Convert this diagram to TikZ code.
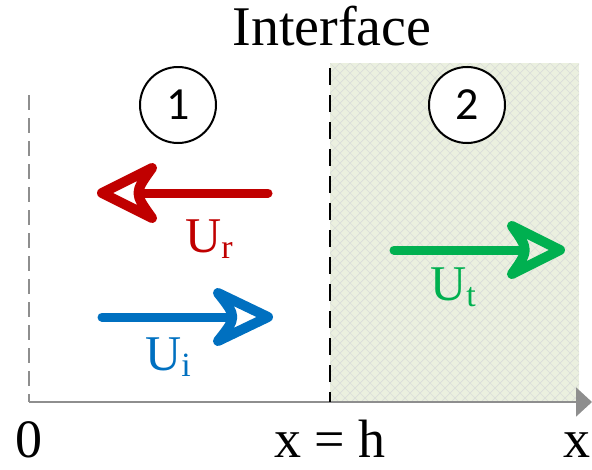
\documentclass[tikz,border=0pt]{standalone}
\usepackage{fontspec}
\setmainfont{Liberation Serif}
\newfontfamily\numfont{Carlito}
\usetikzlibrary{arrows.meta}
\definecolor{cred}{HTML}{C00000}
\definecolor{cblue}{HTML}{0070C0}
\definecolor{cgreen}{HTML}{00B050}
\definecolor{regfill}{HTML}{EBF0DF}
\definecolor{hatch}{HTML}{DADDDA}
\definecolor{axisgray}{HTML}{8E8E8E}
\tikzset{
  wave/.style={line width=9pt,line cap=round,line join=round},
  whead/.style={line width=10pt,line cap=round,line join=round},
  numcircle/.style={circle,draw=black,line width=2pt,minimum size=76pt,inner sep=0pt,
    font=\numfont\fontsize{46}{50}\selectfont},
  lab/.style={font=\fontsize{54}{60}\selectfont,inner sep=0pt,anchor=base},
  ulab/.style={font=\fontsize{50}{56}\selectfont,inner sep=0pt,anchor=base west},
}
\newcommand{\usub}[1]{U\raisebox{-6pt}{\fontsize{34}{38}\selectfont #1}}
\begin{document}
\begin{tikzpicture}[x=1pt,y=-1pt]
\useasboundingbox (0,0) rectangle (592,469);
% medium 2 region
\fill[regfill] (330,63) rectangle (579,402);
\begin{scope}
\clip (330,63) rectangle (579,402);
\foreach \i in {-20,-10,...,930}{
  \draw[hatch,line width=0.7pt] (\i,63) -- (\i+339,402);
  \draw[hatch,line width=0.7pt] (\i,63) -- (\i-339,402);
}
\end{scope}
% axes
\coordinate (O) at (29,402);
\coordinate (top) at (29,95);
\coordinate (xend) at (592,402);
\draw[axisgray,line width=2pt,dash pattern=on 15pt off 8pt] (top) -- (O);
\draw[axisgray,line width=2pt,-{Triangle[length=16pt,width=29pt]}] (O) -- (xend);
% interface
\coordinate (itop) at (330,68);
\coordinate (ibot) at (330,402);
\draw[black,line width=2pt,dash pattern=on 17pt off 10pt] (itop) -- (ibot);
\node[lab,font=\fontsize{56}{62}\selectfont] (iface) at (332,45) {Interface};
% region labels
\node[numcircle,fill=white] (c1) at (178,105) {1};
\node[numcircle,fill=white] (c2) at (467,105) {2};
% reflected wave
\coordinate (rs) at (268,193);
\coordinate (rt) at (102,193);
\draw[wave,cred] (rs) -- (142,193);
\draw[whead,cred] (rt) -- (152,168) .. controls (134,193) .. (152,218) -- cycle;
\node[ulab,text=cred] (ur) at (185,252) {\usub{r}};
% incident wave
\coordinate (is) at (102,317);
\coordinate (it) at (268,317);
\draw[wave,cblue] (is) -- (228,317);
\draw[whead,cblue] (it) -- (218,293) .. controls (237,317) .. (218,341) -- cycle;
\node[ulab,text=cblue] (ui) at (145,370) {\usub{i}};
% transmitted wave
\coordinate (ts) at (394,250);
\coordinate (tt) at (560,250);
\draw[wave,cgreen] (ts) -- (520,250);
\draw[whead,cgreen] (tt) -- (512,226) .. controls (529,250) .. (512,274) -- cycle;
\node[ulab,text=cgreen] (ut) at (430,300) {\usub{t}};
% axis labels
\node[lab] (l0) at (29,457) {0};
\node[lab] (lh) at (330,457) {x = h};
\node[lab,anchor=base west] (lx) at (563,457) {x};
\end{tikzpicture}
\end{document}
